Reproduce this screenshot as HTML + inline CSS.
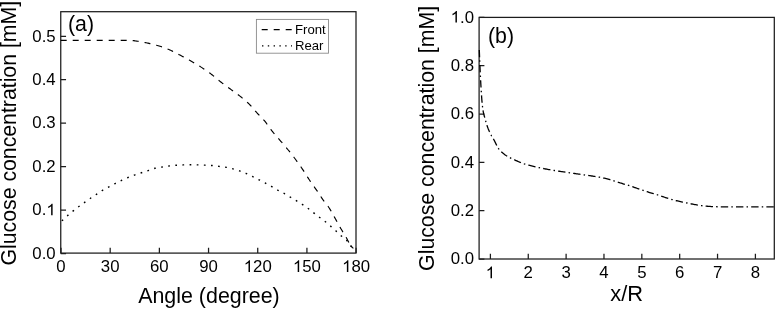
<!DOCTYPE html><html><head><meta charset="utf-8"><style>html,body{margin:0;padding:0;background:#fff;overflow:hidden}svg{display:block;will-change:transform}text{font-family:"Liberation Sans",sans-serif;fill:#000}</style></head><body>
<svg width="775" height="309" viewBox="0 0 775 309">
<rect width="775" height="309" fill="#fff"/>
<rect x="60.75" y="11.7" width="295.25" height="241.4" fill="none" stroke="#1c1c1c" stroke-width="1.25"/>
<path d="M61.00,253.1 v-5.3 M110.18,253.1 v-5.3 M159.37,253.1 v-5.3 M208.55,253.1 v-5.3 M257.73,253.1 v-5.3 M306.92,253.1 v-5.3 M356.10,253.1 v-5.3 M60.75,253.50 h5.3 M60.75,210.06 h5.3 M60.75,166.62 h5.3 M60.75,123.18 h5.3 M60.75,79.74 h5.3 M60.75,36.30 h5.3" stroke="#1c1c1c" stroke-width="1.25" fill="none"/>
<rect x="479.1" y="17.4" width="295.19999999999993" height="241.6" fill="none" stroke="#1c1c1c" stroke-width="1.25"/>
<path d="M490.40,259.0 v-5.3 M528.26,259.0 v-5.3 M566.11,259.0 v-5.3 M603.97,259.0 v-5.3 M641.83,259.0 v-5.3 M679.69,259.0 v-5.3 M717.54,259.0 v-5.3 M755.40,259.0 v-5.3 M479.1,259.00 h5.3 M479.1,210.68 h5.3 M479.1,162.36 h5.3 M479.1,114.04 h5.3 M479.1,65.72 h5.3 M479.1,17.40 h5.3" stroke="#1c1c1c" stroke-width="1.25" fill="none"/>
<g transform="translate(61.00,272.00) scale(1.03,1)">
<text x="-4.53" y="0" font-size="16.3" text-anchor="start">0</text>
</g>
<g transform="translate(110.18,272.00) scale(1.03,1)">
<text x="-9.07 0.00" y="0" font-size="16.3" text-anchor="start">30</text>
</g>
<g transform="translate(159.37,272.00) scale(1.03,1)">
<text x="-9.07 0.00" y="0" font-size="16.3" text-anchor="start">60</text>
</g>
<g transform="translate(208.55,272.00) scale(1.03,1)">
<text x="-9.07 0.00" y="0" font-size="16.3" text-anchor="start">90</text>
</g>
<g transform="translate(257.73,272.00) scale(1.03,1)">
<text x="-4.53 4.53" y="0" font-size="16.3" text-anchor="start">20</text>
<path d="M763 0H583V1147Q518 1085 412.5 1023T223 930V1104Q374 1175 487 1276T647 1472H763Z" transform="translate(-13.60,0) scale(0.007959,-0.007959)" fill="#000"/>
</g>
<g transform="translate(306.92,272.00) scale(1.03,1)">
<text x="-4.53 4.53" y="0" font-size="16.3" text-anchor="start">50</text>
<path d="M763 0H583V1147Q518 1085 412.5 1023T223 930V1104Q374 1175 487 1276T647 1472H763Z" transform="translate(-13.60,0) scale(0.007959,-0.007959)" fill="#000"/>
</g>
<g transform="translate(356.10,272.00) scale(1.03,1)">
<text x="-4.53 4.53" y="0" font-size="16.3" text-anchor="start">80</text>
<path d="M763 0H583V1147Q518 1085 412.5 1023T223 930V1104Q374 1175 487 1276T647 1472H763Z" transform="translate(-13.60,0) scale(0.007959,-0.007959)" fill="#000"/>
</g>
<g transform="translate(55.70,258.80) scale(1.03,1)">
<text x="-22.66 -13.59 -9.07" y="0" font-size="16.3" text-anchor="start">0.0</text>
</g>
<g transform="translate(55.70,215.36) scale(1.03,1)">
<text x="-22.66 -13.59" y="0" font-size="16.3" text-anchor="start">0.</text>
<path d="M763 0H583V1147Q518 1085 412.5 1023T223 930V1104Q374 1175 487 1276T647 1472H763Z" transform="translate(-9.07,0) scale(0.007959,-0.007959)" fill="#000"/>
</g>
<g transform="translate(55.70,171.92) scale(1.03,1)">
<text x="-22.66 -13.59 -9.07" y="0" font-size="16.3" text-anchor="start">0.2</text>
</g>
<g transform="translate(55.70,128.48) scale(1.03,1)">
<text x="-22.66 -13.59 -9.07" y="0" font-size="16.3" text-anchor="start">0.3</text>
</g>
<g transform="translate(55.70,85.04) scale(1.03,1)">
<text x="-22.66 -13.59 -9.07" y="0" font-size="16.3" text-anchor="start">0.4</text>
</g>
<g transform="translate(55.70,41.60) scale(1.03,1)">
<text x="-22.66 -13.59 -9.07" y="0" font-size="16.3" text-anchor="start">0.5</text>
</g>
<g transform="translate(490.40,278.30) scale(1.03,1)">
<path d="M763 0H583V1147Q518 1085 412.5 1023T223 930V1104Q374 1175 487 1276T647 1472H763Z" transform="translate(-4.53,0) scale(0.007959,-0.007959)" fill="#000"/>
</g>
<g transform="translate(528.26,278.30) scale(1.03,1)">
<text x="-4.53" y="0" font-size="16.3" text-anchor="start">2</text>
</g>
<g transform="translate(566.11,278.30) scale(1.03,1)">
<text x="-4.53" y="0" font-size="16.3" text-anchor="start">3</text>
</g>
<g transform="translate(603.97,278.30) scale(1.03,1)">
<text x="-4.53" y="0" font-size="16.3" text-anchor="start">4</text>
</g>
<g transform="translate(641.83,278.30) scale(1.03,1)">
<text x="-4.53" y="0" font-size="16.3" text-anchor="start">5</text>
</g>
<g transform="translate(679.69,278.30) scale(1.03,1)">
<text x="-4.53" y="0" font-size="16.3" text-anchor="start">6</text>
</g>
<g transform="translate(717.54,278.30) scale(1.03,1)">
<text x="-4.53" y="0" font-size="16.3" text-anchor="start">7</text>
</g>
<g transform="translate(755.40,278.30) scale(1.03,1)">
<text x="-4.53" y="0" font-size="16.3" text-anchor="start">8</text>
</g>
<g transform="translate(474.00,264.20) scale(1.03,1)">
<text x="-22.66 -13.59 -9.07" y="0" font-size="16.3" text-anchor="start">0.0</text>
</g>
<g transform="translate(474.00,215.88) scale(1.03,1)">
<text x="-22.66 -13.59 -9.07" y="0" font-size="16.3" text-anchor="start">0.2</text>
</g>
<g transform="translate(474.00,167.56) scale(1.03,1)">
<text x="-22.66 -13.59 -9.07" y="0" font-size="16.3" text-anchor="start">0.4</text>
</g>
<g transform="translate(474.00,119.24) scale(1.03,1)">
<text x="-22.66 -13.59 -9.07" y="0" font-size="16.3" text-anchor="start">0.6</text>
</g>
<g transform="translate(474.00,70.92) scale(1.03,1)">
<text x="-22.66 -13.59 -9.07" y="0" font-size="16.3" text-anchor="start">0.8</text>
</g>
<g transform="translate(474.00,22.60) scale(1.03,1)">
<text x="-13.59 -9.07" y="0" font-size="16.3" text-anchor="start">.0</text>
<path d="M763 0H583V1147Q518 1085 412.5 1023T223 930V1104Q374 1175 487 1276T647 1472H763Z" transform="translate(-22.66,0) scale(0.007959,-0.007959)" fill="#000"/>
</g>
<text transform="translate(208.95,302.60) scale(1.01,1)" font-size="21.2" text-anchor="middle" >Angle (degree)</text>
<text transform="translate(626.70,300.60) scale(1.03,1)" font-size="21.2" text-anchor="middle" >x/R</text>
<text transform="translate(15.50,265.50) rotate(-90) scale(1.0035,1)" font-size="21.2" text-anchor="start" >Glucose concentration [mM]</text>
<text transform="translate(434.20,270.90) rotate(-90) scale(1.0045,1)" font-size="21.2" text-anchor="start" >Glucose concentration [mM]</text>
<text transform="translate(68.00,30.80) scale(1.006,1)" font-size="21.2" text-anchor="start" >(a)</text>
<text transform="translate(488.00,42.50) scale(1.006,1)" font-size="21.2" text-anchor="start" >(b)</text>
<rect x="256.4" y="19.4" width="72.1" height="33.8" fill="#fff" stroke="#8a8a8a" stroke-width="0.9"/>
<path d="M261.7,29.7 H292" stroke="#000" stroke-width="1.2" stroke-dasharray="6 6" fill="none"/>
<path d="M262,45.9 H292" stroke="#000" stroke-width="1.2" stroke-dasharray="1.4 4.4" fill="none"/>
<text transform="translate(295.00,33.90) scale(1.02,1)" font-size="12.9" text-anchor="start" >Front</text>
<text transform="translate(295.00,50.00) scale(1.02,1)" font-size="12.9" text-anchor="start" >Rear</text>
<path d="M60.70,40.30 L61.65,40.30 L62.60,40.30 L63.56,40.30 L64.51,40.30 L65.46,40.30 L66.41,40.30 L67.36,40.30 L68.31,40.30 L69.27,40.30 L70.22,40.30 L71.17,40.30 L72.12,40.30 L73.07,40.30 L74.02,40.30 L74.98,40.30 L75.93,40.30 L76.88,40.30 L77.83,40.30 L78.78,40.30 L79.73,40.30 L80.69,40.30 L81.64,40.30 L82.59,40.30 L83.54,40.30 L84.49,40.30 L85.44,40.30 L86.40,40.30 L87.35,40.30 L88.30,40.30 L89.25,40.30 L90.20,40.30 L91.15,40.30 L92.11,40.30 L93.06,40.30 L94.01,40.30 L94.96,40.30 L95.91,40.30 L96.87,40.30 L97.82,40.30 L98.77,40.30 L99.72,40.30 L100.67,40.30 L101.62,40.30 L102.58,40.30 L103.53,40.30 L104.48,40.30 L105.43,40.30 L106.38,40.30 L107.33,40.30 L108.29,40.30 L109.24,40.30 L110.19,40.30 L111.14,40.30 L112.09,40.30 L113.04,40.30 L114.00,40.30 L114.95,40.30 L115.90,40.30 L116.85,40.30 L117.80,40.30 L118.76,40.30 L119.71,40.30 L120.66,40.30 L121.61,40.30 L122.56,40.30 L123.51,40.30 L124.46,40.30 L125.42,40.30 L126.37,40.31 L127.32,40.33 L128.27,40.35 L129.23,40.38 L130.18,40.42 L131.13,40.46 L132.08,40.50 L133.02,40.58 L133.97,40.69 L134.91,40.82 L135.86,40.95 L136.80,41.08 L137.74,41.23 L138.68,41.38 L139.62,41.53 L140.56,41.70 L141.49,41.87 L142.43,42.04 L143.37,42.22 L144.30,42.41 L145.23,42.59 L146.16,42.78 L147.10,42.98 L148.03,43.17 L148.96,43.38 L149.89,43.58 L150.81,43.80 L151.74,44.01 L152.67,44.24 L153.60,44.47 L154.52,44.71 L155.44,44.95 L156.36,45.20 L157.27,45.45 L158.19,45.72 L159.09,45.99 L160.00,46.27 L160.91,46.56 L161.81,46.86 L162.71,47.18 L163.61,47.50 L164.50,47.83 L165.40,48.17 L166.29,48.51 L167.17,48.87 L168.05,49.22 L168.93,49.59 L169.80,49.96 L170.67,50.34 L171.54,50.73 L172.39,51.14 L173.25,51.56 L174.10,51.99 L174.95,52.42 L175.79,52.86 L176.64,53.31 L177.48,53.76 L178.32,54.21 L179.16,54.65 L180.00,55.10 L180.85,55.54 L181.69,55.98 L182.53,56.43 L183.37,56.87 L184.21,57.32 L185.05,57.77 L185.89,58.22 L186.73,58.67 L187.56,59.13 L188.39,59.59 L189.23,60.05 L190.05,60.52 L190.88,60.99 L191.71,61.46 L192.53,61.94 L193.36,62.41 L194.18,62.89 L195.00,63.38 L195.82,63.86 L196.64,64.35 L197.45,64.84 L198.26,65.34 L199.07,65.84 L199.88,66.35 L200.68,66.86 L201.48,67.37 L202.28,67.89 L203.07,68.42 L203.86,68.95 L204.65,69.48 L205.44,70.02 L206.22,70.56 L207.01,71.10 L207.78,71.65 L208.56,72.21 L209.33,72.76 L210.10,73.33 L210.86,73.89 L211.62,74.47 L212.37,75.05 L213.11,75.64 L213.85,76.24 L214.58,76.85 L215.31,77.46 L216.04,78.08 L216.76,78.70 L217.49,79.31 L218.22,79.92 L218.96,80.53 L219.70,81.12 L220.44,81.71 L221.20,82.29 L221.95,82.87 L222.71,83.44 L223.47,84.01 L224.24,84.58 L225.01,85.15 L225.77,85.71 L226.54,86.27 L227.31,86.83 L228.08,87.39 L228.85,87.96 L229.62,88.52 L230.38,89.08 L231.15,89.64 L231.93,90.20 L232.70,90.75 L233.48,91.30 L234.25,91.86 L235.03,92.41 L235.80,92.97 L236.57,93.53 L237.33,94.09 L238.09,94.67 L238.85,95.25 L239.59,95.83 L240.34,96.42 L241.09,97.02 L241.83,97.61 L242.57,98.22 L243.31,98.82 L244.04,99.43 L244.77,100.05 L245.49,100.67 L246.21,101.30 L246.92,101.94 L247.62,102.58 L248.31,103.23 L248.99,103.89 L249.65,104.56 L250.31,105.25 L250.95,105.95 L251.58,106.66 L252.20,107.37 L252.82,108.10 L253.44,108.83 L254.05,109.56 L254.67,110.29 L255.29,111.01 L255.92,111.73 L256.55,112.44 L257.20,113.14 L257.85,113.83 L258.51,114.52 L259.18,115.20 L259.85,115.88 L260.52,116.57 L261.18,117.25 L261.85,117.93 L262.50,118.62 L263.15,119.32 L263.79,120.02 L264.41,120.74 L265.02,121.46 L265.61,122.20 L266.18,122.96 L266.75,123.72 L267.31,124.49 L267.86,125.27 L268.41,126.05 L268.95,126.83 L269.50,127.62 L270.05,128.40 L270.61,129.17 L271.18,129.93 L271.75,130.69 L272.35,131.43 L272.95,132.17 L273.55,132.90 L274.17,133.62 L274.79,134.35 L275.41,135.06 L276.04,135.78 L276.67,136.50 L277.30,137.21 L277.93,137.92 L278.56,138.64 L279.19,139.36 L279.81,140.08 L280.43,140.80 L281.05,141.52 L281.67,142.24 L282.29,142.96 L282.91,143.69 L283.53,144.41 L284.15,145.13 L284.77,145.85 L285.39,146.58 L286.00,147.31 L286.61,148.04 L287.22,148.77 L287.82,149.50 L288.42,150.24 L289.02,150.98 L289.61,151.73 L290.21,152.47 L290.80,153.22 L291.38,153.97 L291.97,154.72 L292.55,155.47 L293.13,156.23 L293.71,156.98 L294.28,157.74 L294.86,158.50 L295.43,159.26 L295.99,160.03 L296.56,160.79 L297.12,161.56 L297.68,162.33 L298.24,163.10 L298.79,163.88 L299.34,164.65 L299.89,165.43 L300.44,166.21 L300.98,166.99 L301.52,167.78 L302.06,168.56 L302.60,169.35 L303.13,170.14 L303.65,170.93 L304.17,171.73 L304.68,172.53 L305.20,173.33 L305.70,174.14 L306.21,174.94 L306.72,175.75 L307.22,176.55 L307.73,177.36 L308.24,178.16 L308.76,178.96 L309.28,179.76 L309.80,180.55 L310.33,181.34 L310.87,182.13 L311.41,182.91 L311.96,183.69 L312.51,184.47 L313.06,185.24 L313.62,186.02 L314.17,186.79 L314.73,187.56 L315.28,188.34 L315.83,189.11 L316.38,189.89 L316.93,190.67 L317.47,191.45 L318.00,192.24 L318.53,193.03 L319.05,193.83 L319.57,194.62 L320.09,195.42 L320.61,196.22 L321.13,197.02 L321.66,197.81 L322.19,198.60 L322.72,199.39 L323.27,200.17 L323.82,200.94 L324.39,201.70 L324.98,202.45 L325.57,203.20 L326.17,203.94 L326.77,204.69 L327.36,205.44 L327.93,206.19 L328.49,206.96 L329.03,207.74 L329.54,208.54 L330.05,209.34 L330.54,210.15 L331.02,210.97 L331.50,211.80 L331.96,212.63 L332.43,213.46 L332.89,214.30 L333.35,215.13 L333.80,215.97 L334.26,216.81 L334.73,217.64 L335.20,218.47 L335.66,219.30 L336.13,220.13 L336.59,220.96 L337.05,221.79 L337.51,222.63 L337.97,223.46 L338.43,224.29 L338.89,225.13 L339.36,225.96 L339.82,226.79 L340.29,227.61 L340.76,228.44 L341.24,229.26 L341.73,230.08 L342.23,230.89 L342.73,231.70 L343.23,232.51 L343.73,233.32 L344.24,234.13 L344.73,234.94 L345.23,235.76 L345.71,236.58 L346.18,237.40 L346.65,238.23 L347.10,239.07 L347.53,239.91 L347.96,240.76 L348.38,241.61 L348.80,242.47 L349.20,243.33 L349.60,244.20" stroke="#000" stroke-width="1.15" stroke-dasharray="6 6" fill="none"/>
<path d="M350.4,245.8 L353.4,248.4" stroke="#000" stroke-width="1.15" fill="none"/>
<path d="M60.70,221.90 L61.31,221.32 L61.92,220.75 L62.53,220.18 L63.14,219.61 L63.76,219.05 L64.37,218.48 L64.99,217.92 L65.61,217.36 L66.24,216.81 L66.86,216.26 L67.49,215.70 L68.12,215.15 L68.75,214.61 L69.39,214.06 L70.03,213.52 L70.66,212.98 L71.31,212.44 L71.95,211.91 L72.60,211.38 L73.25,210.86 L73.90,210.34 L74.56,209.82 L75.21,209.30 L75.88,208.79 L76.54,208.28 L77.20,207.78 L77.87,207.27 L78.54,206.77 L79.21,206.27 L79.88,205.78 L80.56,205.29 L81.24,204.80 L81.92,204.31 L82.60,203.82 L83.28,203.34 L83.96,202.86 L84.64,202.37 L85.32,201.88 L86.00,201.40 L86.68,200.91 L87.36,200.43 L88.04,199.94 L88.73,199.46 L89.41,198.98 L90.10,198.51 L90.79,198.04 L91.49,197.57 L92.18,197.11 L92.89,196.66 L93.59,196.21 L94.29,195.76 L95.00,195.30 L95.70,194.85 L96.40,194.40 L97.10,193.94 L97.79,193.47 L98.48,193.00 L99.18,192.53 L99.87,192.06 L100.56,191.59 L101.26,191.13 L101.97,190.69 L102.68,190.25 L103.40,189.83 L104.13,189.43 L104.86,189.03 L105.60,188.64 L106.34,188.25 L107.08,187.86 L107.83,187.47 L108.56,187.08 L109.30,186.68 L110.03,186.28 L110.77,185.88 L111.50,185.48 L112.24,185.08 L112.97,184.68 L113.71,184.28 L114.44,183.89 L115.19,183.51 L115.93,183.13 L116.67,182.75 L117.42,182.37 L118.17,182.00 L118.92,181.63 L119.67,181.26 L120.42,180.90 L121.18,180.54 L121.94,180.19 L122.70,179.84 L123.46,179.49 L124.22,179.15 L124.98,178.81 L125.75,178.48 L126.52,178.15 L127.29,177.82 L128.06,177.50 L128.83,177.18 L129.61,176.87 L130.38,176.56 L131.16,176.26 L131.94,175.95 L132.73,175.66 L133.51,175.37 L134.30,175.08 L135.08,174.81 L135.87,174.54 L136.67,174.27 L137.46,174.02 L138.26,173.77 L139.06,173.52 L139.86,173.27 L140.66,173.02 L141.45,172.77 L142.25,172.52 L143.05,172.26 L143.84,172.01 L144.64,171.75 L145.43,171.49 L146.23,171.23 L147.02,170.98 L147.82,170.72 L148.61,170.46 L149.41,170.20 L150.20,169.92 L150.99,169.64 L151.78,169.35 L152.57,169.07 L153.36,168.79 L154.15,168.53 L154.95,168.29 L155.75,168.08 L156.56,167.90 L157.38,167.74 L158.20,167.60 L159.03,167.46 L159.86,167.33 L160.68,167.21 L161.51,167.09 L162.34,166.97 L163.17,166.84 L164.00,166.72 L164.82,166.59 L165.65,166.46 L166.48,166.34 L167.30,166.22 L168.13,166.11 L168.96,166.00 L169.79,165.90 L170.62,165.81 L171.45,165.71 L172.28,165.62 L173.11,165.53 L173.95,165.44 L174.78,165.37 L175.61,165.30 L176.44,165.24 L177.28,165.18 L178.11,165.14 L178.95,165.09 L179.78,165.05 L180.62,165.01 L181.45,164.98 L182.29,164.95 L183.12,164.92 L183.96,164.90 L184.80,164.88 L185.63,164.87 L186.47,164.85 L187.30,164.84 L188.14,164.82 L188.97,164.81 L189.81,164.81 L190.65,164.80 L191.48,164.80 L192.32,164.80 L193.15,164.81 L193.99,164.82 L194.83,164.83 L195.66,164.84 L196.50,164.86 L197.33,164.88 L198.17,164.89 L199.00,164.91 L199.84,164.94 L200.67,164.97 L201.51,165.00 L202.34,165.04 L203.18,165.08 L204.01,165.13 L204.85,165.17 L205.68,165.21 L206.52,165.25 L207.35,165.29 L208.19,165.33 L209.03,165.37 L209.86,165.41 L210.70,165.46 L211.53,165.52 L212.36,165.57 L213.19,165.64 L214.02,165.73 L214.85,165.82 L215.68,165.93 L216.51,166.05 L217.34,166.17 L218.17,166.29 L219.00,166.41 L219.82,166.52 L220.65,166.62 L221.49,166.72 L222.32,166.81 L223.15,166.91 L223.98,167.01 L224.81,167.12 L225.64,167.23 L226.46,167.36 L227.28,167.50 L228.10,167.66 L228.92,167.84 L229.73,168.02 L230.55,168.22 L231.36,168.43 L232.17,168.64 L232.98,168.86 L233.78,169.08 L234.59,169.30 L235.39,169.53 L236.19,169.78 L236.99,170.02 L237.79,170.28 L238.58,170.54 L239.37,170.81 L240.16,171.09 L240.95,171.37 L241.73,171.66 L242.51,171.96 L243.29,172.26 L244.06,172.58 L244.84,172.90 L245.61,173.23 L246.37,173.56 L247.14,173.89 L247.90,174.24 L248.65,174.60 L249.41,174.96 L250.16,175.33 L250.91,175.70 L251.65,176.08 L252.40,176.45 L253.15,176.82 L253.90,177.20 L254.65,177.57 L255.39,177.95 L256.14,178.33 L256.88,178.71 L257.63,179.09 L258.37,179.47 L259.11,179.85 L259.86,180.23 L260.60,180.62 L261.34,181.00 L262.08,181.38 L262.83,181.77 L263.57,182.16 L264.31,182.55 L265.05,182.94 L265.78,183.33 L266.52,183.73 L267.25,184.12 L267.99,184.52 L268.72,184.92 L269.45,185.33 L270.18,185.73 L270.91,186.14 L271.64,186.55 L272.37,186.97 L273.09,187.39 L273.81,187.81 L274.52,188.25 L275.24,188.69 L275.95,189.13 L276.66,189.56 L277.38,189.99 L278.10,190.41 L278.83,190.82 L279.57,191.21 L280.32,191.58 L281.07,191.95 L281.82,192.31 L282.58,192.67 L283.33,193.04 L284.08,193.41 L284.82,193.80 L285.54,194.21 L286.27,194.63 L286.98,195.06 L287.69,195.50 L288.40,195.94 L289.11,196.39 L289.82,196.83 L290.53,197.27 L291.24,197.71 L291.96,198.14 L292.68,198.57 L293.40,199.00 L294.11,199.42 L294.83,199.85 L295.55,200.28 L296.26,200.71 L296.98,201.15 L297.69,201.58 L298.41,202.02 L299.12,202.45 L299.83,202.89 L300.55,203.33 L301.25,203.77 L301.96,204.22 L302.66,204.67 L303.36,205.13 L304.05,205.60 L304.75,206.07 L305.44,206.54 L306.12,207.02 L306.81,207.50 L307.49,207.98 L308.16,208.48 L308.83,208.97 L309.49,209.48 L310.15,210.00 L310.80,210.52 L311.45,211.05 L312.10,211.58 L312.75,212.11 L313.40,212.63 L314.06,213.15 L314.72,213.66 L315.38,214.17 L316.04,214.68 L316.71,215.18 L317.37,215.69 L318.04,216.20 L318.71,216.70 L319.37,217.20 L320.04,217.71 L320.71,218.21 L321.39,218.70 L322.06,219.19 L322.74,219.68 L323.41,220.18 L324.08,220.68 L324.75,221.19 L325.40,221.70 L326.05,222.23 L326.69,222.77 L327.32,223.31 L327.95,223.86 L328.58,224.41 L329.21,224.97 L329.83,225.52 L330.46,226.08 L331.09,226.63 L331.71,227.18 L332.34,227.74 L332.96,228.29 L333.59,228.85 L334.21,229.41 L334.83,229.97 L335.45,230.53 L336.07,231.09 L336.69,231.65 L337.31,232.21 L337.92,232.78 L338.54,233.35 L339.15,233.91 L339.77,234.48 L340.38,235.04 L341.00,235.61 L341.63,236.16 L342.26,236.71 L342.91,237.24 L343.57,237.76 L344.24,238.28 L344.89,238.80 L345.54,239.33 L346.16,239.88 L346.76,240.45 L347.32,241.06 L347.85,241.70 L348.35,242.36 L348.85,243.04 L349.34,243.73 L349.84,244.40 L350.35,245.07 L350.88,245.72 L351.40,246.37 L351.93,247.01 L352.46,247.66 L353.00,248.30" stroke="#000" stroke-width="1.4" stroke-dasharray="1.7 5.44" stroke-dashoffset="-1.6" fill="none"/>
<path d="M479.30,50.00 L479.34,50.97 L479.37,51.94 L479.41,52.91 L479.45,53.88 L479.48,54.85 L479.52,55.82 L479.56,56.80 L479.60,57.77 L479.64,58.74 L479.68,59.71 L479.72,60.68 L479.76,61.65 L479.80,62.62 L479.84,63.59 L479.88,64.56 L479.92,65.53 L479.96,66.50 L480.01,67.47 L480.05,68.44 L480.09,69.41 L480.14,70.38 L480.18,71.35 L480.22,72.32 L480.27,73.30 L480.32,74.27 L480.36,75.24 L480.41,76.21 L480.46,77.18 L480.50,78.15 L480.55,79.12 L480.60,80.09 L480.66,81.06 L480.71,82.03 L480.76,83.00 L480.82,83.97 L480.87,84.94 L480.93,85.91 L480.99,86.88 L481.05,87.85 L481.10,88.82 L481.17,89.79 L481.23,90.76 L481.29,91.72 L481.35,92.69 L481.41,93.66 L481.48,94.63 L481.54,95.60 L481.60,96.57 L481.67,97.54 L481.74,98.51 L481.81,99.48 L481.89,100.45 L481.97,101.42 L482.06,102.38 L482.16,103.35 L482.25,104.32 L482.36,105.29 L482.47,106.25 L482.59,107.22 L482.71,108.18 L482.85,109.14 L482.99,110.10 L483.14,111.06 L483.31,112.01 L483.51,112.96 L483.73,113.91 L483.97,114.85 L484.22,115.79 L484.48,116.73 L484.73,117.67 L484.98,118.61 L485.23,119.55 L485.49,120.49 L485.76,121.42 L486.03,122.36 L486.31,123.29 L486.60,124.22 L486.90,125.14 L487.21,126.06 L487.53,126.97 L487.86,127.88 L488.21,128.79 L488.58,129.69 L488.96,130.59 L489.35,131.48 L489.76,132.36 L490.18,133.24 L490.60,134.11 L491.06,134.96 L491.53,135.81 L492.03,136.65 L492.53,137.48 L493.03,138.31 L493.53,139.15 L494.02,139.99 L494.49,140.84 L494.93,141.72 L495.36,142.60 L495.78,143.50 L496.20,144.39 L496.63,145.28 L497.07,146.15 L497.53,146.99 L498.02,147.80 L498.56,148.58 L499.13,149.32 L499.76,150.06 L500.42,150.78 L501.11,151.49 L501.83,152.17 L502.57,152.84 L503.33,153.47 L504.09,154.08 L504.86,154.66 L505.64,155.20 L506.44,155.73 L507.25,156.23 L508.09,156.71 L508.95,157.18 L509.82,157.64 L510.69,158.08 L511.58,158.51 L512.47,158.93 L513.36,159.35 L514.24,159.75 L515.13,160.16 L516.01,160.56 L516.90,160.96 L517.79,161.35 L518.68,161.73 L519.58,162.11 L520.48,162.48 L521.39,162.83 L522.30,163.17 L523.22,163.50 L524.13,163.82 L525.05,164.11 L525.98,164.40 L526.90,164.67 L527.84,164.94 L528.77,165.20 L529.71,165.46 L530.65,165.70 L531.59,165.94 L532.54,166.18 L533.49,166.41 L534.44,166.63 L535.38,166.85 L536.33,167.07 L537.28,167.28 L538.23,167.48 L539.18,167.69 L540.13,167.89 L541.08,168.09 L542.03,168.28 L542.98,168.47 L543.94,168.65 L544.89,168.83 L545.85,169.01 L546.80,169.19 L547.76,169.36 L548.72,169.53 L549.67,169.70 L550.63,169.87 L551.59,170.03 L552.55,170.19 L553.51,170.35 L554.46,170.51 L555.42,170.66 L556.38,170.81 L557.34,170.96 L558.30,171.11 L559.26,171.25 L560.23,171.39 L561.19,171.53 L562.15,171.67 L563.11,171.81 L564.07,171.95 L565.03,172.08 L566.00,172.22 L566.96,172.36 L567.92,172.50 L568.88,172.64 L569.84,172.78 L570.80,172.92 L571.76,173.06 L572.73,173.21 L573.69,173.35 L574.65,173.49 L575.61,173.63 L576.57,173.77 L577.53,173.91 L578.49,174.05 L579.45,174.19 L580.41,174.34 L581.38,174.48 L582.34,174.62 L583.30,174.76 L584.26,174.90 L585.22,175.05 L586.18,175.19 L587.14,175.33 L588.11,175.46 L589.07,175.60 L590.03,175.73 L590.99,175.86 L591.96,176.00 L592.92,176.14 L593.88,176.28 L594.84,176.42 L595.80,176.57 L596.76,176.72 L597.72,176.88 L598.67,177.05 L599.63,177.22 L600.58,177.41 L601.53,177.60 L602.48,177.80 L603.43,178.01 L604.38,178.23 L605.33,178.46 L606.27,178.69 L607.21,178.93 L608.15,179.17 L609.09,179.42 L610.03,179.67 L610.96,179.94 L611.89,180.23 L612.81,180.53 L613.73,180.83 L614.66,181.14 L615.58,181.45 L616.50,181.76 L617.42,182.06 L618.35,182.36 L619.28,182.65 L620.20,182.94 L621.14,183.21 L622.07,183.49 L623.00,183.76 L623.93,184.03 L624.87,184.31 L625.80,184.58 L626.73,184.86 L627.66,185.14 L628.58,185.43 L629.51,185.73 L630.43,186.03 L631.35,186.34 L632.27,186.65 L633.19,186.97 L634.11,187.28 L635.03,187.60 L635.95,187.92 L636.86,188.24 L637.78,188.56 L638.70,188.87 L639.62,189.18 L640.54,189.50 L641.46,189.81 L642.38,190.13 L643.30,190.44 L644.22,190.76 L645.14,191.07 L646.06,191.37 L646.98,191.68 L647.91,191.98 L648.83,192.27 L649.76,192.55 L650.69,192.83 L651.62,193.11 L652.56,193.38 L653.49,193.65 L654.42,193.92 L655.36,194.19 L656.29,194.47 L657.22,194.75 L658.14,195.05 L659.07,195.35 L659.99,195.66 L660.91,195.97 L661.82,196.29 L662.74,196.61 L663.66,196.93 L664.58,197.25 L665.50,197.56 L666.42,197.86 L667.35,198.15 L668.28,198.43 L669.21,198.70 L670.14,198.98 L671.08,199.25 L672.01,199.51 L672.95,199.77 L673.89,200.03 L674.83,200.28 L675.77,200.52 L676.71,200.75 L677.65,200.98 L678.60,201.20 L679.54,201.42 L680.49,201.63 L681.44,201.83 L682.39,202.03 L683.34,202.23 L684.30,202.43 L685.25,202.62 L686.20,202.82 L687.15,203.01 L688.10,203.21 L689.05,203.41 L690.01,203.61 L690.96,203.80 L691.91,203.99 L692.87,204.18 L693.82,204.36 L694.77,204.54 L695.73,204.70 L696.69,204.86 L697.65,205.02 L698.61,205.18 L699.57,205.33 L700.53,205.48 L701.49,205.63 L702.45,205.76 L703.42,205.88 L704.38,205.99 L705.35,206.09 L706.31,206.17 L707.28,206.25 L708.25,206.33 L709.22,206.40 L710.19,206.47 L711.16,206.53 L712.13,206.59 L713.10,206.63 L714.07,206.67 L715.04,206.70 L716.01,206.72 L716.98,206.74 L717.95,206.75 L718.93,206.77 L719.90,206.79 L720.87,206.80 L721.84,206.82 L722.81,206.83 L723.78,206.84 L724.75,206.85 L725.73,206.86 L726.70,206.87 L727.67,206.88 L728.64,206.89 L729.61,206.89 L730.58,206.90 L731.56,206.90 L732.53,206.90 L733.50,206.90 L734.47,206.90 L735.44,206.90 L736.41,206.90 L737.38,206.90 L738.36,206.90 L739.33,206.90 L740.30,206.90 L741.27,206.90 L742.24,206.90 L743.21,206.90 L744.18,206.90 L745.16,206.90 L746.13,206.90 L747.10,206.90 L748.07,206.90 L749.04,206.90 L750.01,206.90 L750.98,206.90 L751.96,206.90 L752.93,206.90 L753.90,206.90 L754.87,206.90 L755.84,206.90 L756.81,206.90 L757.78,206.90 L758.76,206.90 L759.73,206.90 L760.70,206.90 L761.67,206.90 L762.64,206.90 L763.61,206.90 L764.59,206.90 L765.56,206.90 L766.53,206.90 L767.50,206.90 L768.47,206.90 L769.44,206.90 L770.41,206.90 L771.39,206.90 L772.36,206.90 L773.33,206.90 L774.30,206.90" stroke="#000" stroke-width="1.3" stroke-dasharray="7.4 3.15 1.5 3.15" stroke-dashoffset="0.2" fill="none"/>
</svg></body></html>
